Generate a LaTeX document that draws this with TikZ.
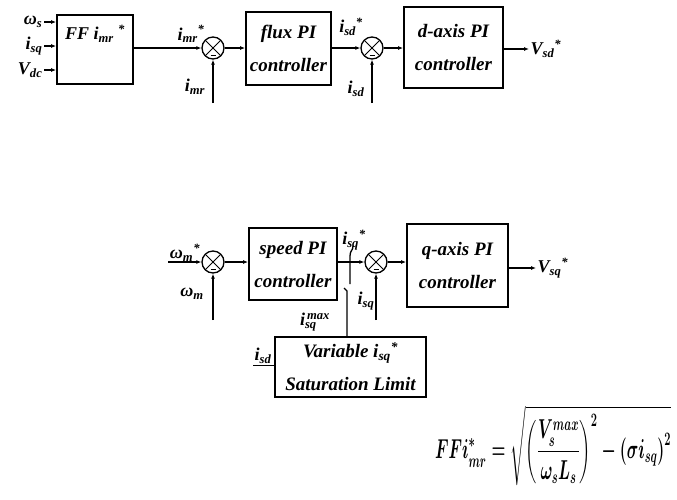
\documentclass[tikz,border=0pt]{standalone}
\usepackage{amsmath,amssymb}
\usepackage{fontspec}
\setmainfont{Liberation Serif}
\usepackage{tikz}
\usetikzlibrary{arrows.meta, positioning, calc}

\newcommand{\sbs}[2]{#1\textsubscript{#2}}
\newcommand{\sbsp}[3]{#1\rlap{\textsubscript{#2}}\textsuperscript{#3}}
\newcommand{\boxfont}{\fontsize{19}{33}\selectfont\bfseries\itshape}
\newcommand{\lblfont}{\fontsize{18}{20}\selectfont\bfseries\itshape}

\tikzset{
    blk/.style={draw, line width=1.8pt, rectangle, align=center, font=\boxfont},
    lbl/.style={inner sep=1pt, font=\lblfont},
    sumj/.style={draw, circle, line width=1.3pt, minimum size=22pt, inner sep=0pt,
        path picture={
            \draw[line width=1pt] (path picture bounding box.north west) -- (path picture bounding box.south east);
            \draw[line width=1pt] (path picture bounding box.north east) -- (path picture bounding box.south west);
            \draw[line width=0.8pt] ($(path picture bounding box.south)+(-2.5pt,3.5pt)$) -- ++(5pt,0);
        }}
}

\begin{document}
\begin{tikzpicture}[x=1pt, y=1pt, line width=1.3pt, >={Latex[length=5pt, width=4pt]}]
    \useasboundingbox (0,0) rectangle (677,-499);

    % Top row: flux loop and d-axis current loop
    \node[blk, minimum width=76pt, minimum height=69pt] (ff) at (95,-49.5) {};
    \node[lbl, anchor=north] (fftxt) at ($(ff.north)+(0,-9)$) {FF \sbs{i}{mr}\textsuperscript{\,\,*}};
    \node[lbl, anchor=east] (ws) at (44,-22) {ω\textsubscript{s}};
    \node[lbl, anchor=east] (isq) at (44,-46) {\sbs{i}{sq}};
    \node[lbl, anchor=east] (vdc) at (44,-70) {\sbs{V}{dc}};
    \foreach \n in {ws, isq, vdc}
        \draw[->] (\n.east) -- (\n.east -| ff.west);

    \node[sumj] (s1) at (213,-48) {};
    \node[blk, minimum width=85pt, minimum height=73pt] (flux) at (288.5,-48.5) {flux PI\\controller};
    \node[sumj] (s2) at (372,-48) {};
    \node[blk, minimum width=99pt, minimum height=81pt] (dpi) at (453.5,-47.5) {d-axis PI\\controller};
    \node[lbl, anchor=west] (vsd) at (529,-49) {\sbs{V}{sd}\textsuperscript{*}};

    \node[lbl] (imrref) at (191,-34) {\sbs{i}{mr}\textsuperscript{*}};
    \node[lbl] (imr) at (195,-87) {\sbs{i}{mr}};
    \node[lbl] (isdref) at (351,-27) {\sbs{i}{sd}\textsuperscript{*}};
    \node[lbl] (isd) at (356,-89) {\sbs{i}{sd}};
    \coordinate (imrfb) at (213,-103);
    \coordinate (isdfb) at (372,-103);

    \draw[->] (ff.east |- s1) -- (s1.west);
    \draw[->] (s1.east) -- (s1.east -| flux.west);
    \draw[->] (flux.east |- s2) -- (s2.west);
    \draw[->] (s2.east) -- (s2.east -| dpi.west);
    \draw[->] (dpi.east |- vsd) -- (vsd.west);
    \draw[->] (imrfb) -- (s1.south);
    \draw[->] (isdfb) -- (s2.south);

    % Bottom row: speed loop and q-axis current loop
    \node[sumj] (s3) at (213,-262) {};
    \node[blk, minimum width=88pt, minimum height=72pt] (spd) at (293,-264) {speed PI\\controller};
    \node[sumj] (s4) at (376,-262) {};
    \node[blk, minimum width=101pt, minimum height=83pt] (qpi) at (457.5,-265.5) {q-axis PI\\controller};
    \node[lbl, anchor=west] (vsq) at (536,-268) {\sbs{V}{sq}\textsuperscript{*}};
    \node[blk, minimum width=151pt, minimum height=60pt] (sat) at (350.5,-367) {Variable \sbs{i}{sq}\textsuperscript{*}\\Saturation Limit};

    \node[lbl, anchor=south] (wmref) at (185,-263) {\sbs{ω}{m}\textsuperscript{*}};
    \node[lbl] (wm) at (192,-294) {ω\textsubscript{m}};
    \node[lbl] (isqref) at (354,-240) {\sbs{i}{sq}\textsuperscript{*}};
    \node[lbl] (isqm) at (366,-301) {\sbs{i}{sq}};
    \node[lbl] (isqmax) at (315,-322) {\sbsp{i}{sq}{\,max}};
    \node[lbl] (isdsat) at (263,-356) {\sbs{i}{sd}};
    \coordinate (wmfb) at (213,-320);
    \coordinate (isqfb) at (376,-320);
    \coordinate (lim) at (347,-337);

    \draw[->] (wmref.south west |- s3) -- (s3.west);
    \draw[->] (s3.east) -- (s3.east -| spd.west);
    \draw[->] (spd.east |- s4) -- (s4.west);
    \draw[->] (s4.east) -- (s4.east -| qpi.west);
    \draw[->] (qpi.east |- vsq) -- (vsq.west);
    \draw[->] (wmfb) -- (s3.south);
    \draw[->] (isqfb) -- (s4.south);
    \draw (isdsat.south west) -- (isdsat.south -| sat.west);

    % limiter from the saturation block
    \draw (lim) -- (347,-291) -- (344,-288);
    \draw (350,-284) -- (350,-256) .. controls (350,-250) and (353,-251) .. (353,-246);

    % feed-forward flux reference
    \node[xscale=0.64, yscale=1.1, transform shape] (ffeq) at (553,-446) {\fontsize{24}{28}\selectfont
        $\displaystyle \boldsymbol{FFi^{*}_{mr} = \sqrt{\left(\frac{V_s^{max}}{\omega_s L_s}\right)^{2} - \left(\sigma i_{sq}\right)^{2}}}$};
\end{tikzpicture}
\end{document}
